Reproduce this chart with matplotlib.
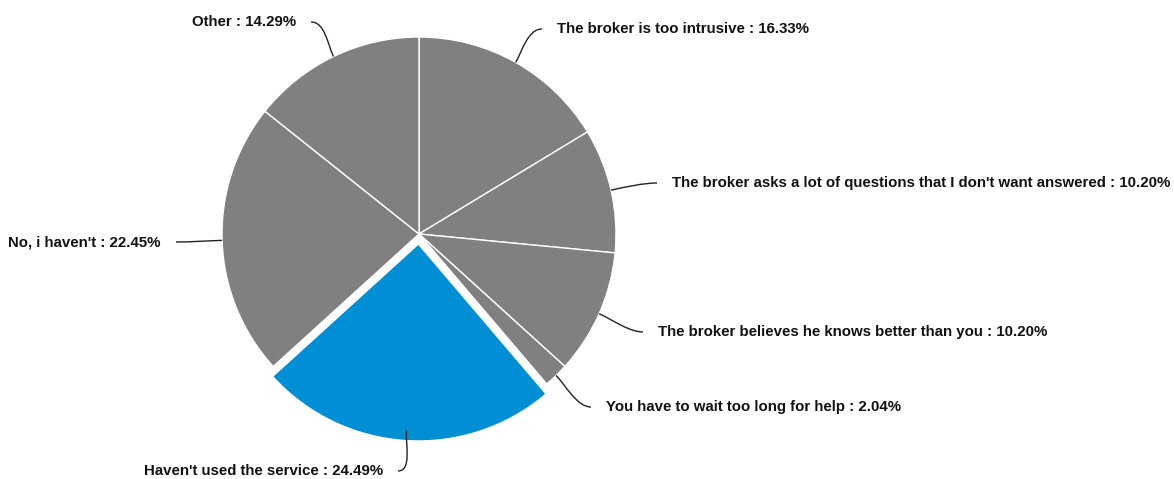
import numpy as np
import matplotlib
matplotlib.use("Agg")
import matplotlib.pyplot as plt
from matplotlib.path import Path
from matplotlib.patches import PathPatch

# Survey answers, clockwise from 12 o'clock
labels = [
    "The broker is too intrusive",
    "The broker asks a lot of questions that I don't want answered",
    "The broker believes he knows better than you",
    "You have to wait too long for help",
    "Haven't used the service",
    "No, i haven't",
    "Other",
]
shares = [16.33, 10.20, 10.20, 2.04, 24.49, 22.45, 14.29]
highlighted = "Haven't used the service"

W, H = 1174, 479
fig = plt.figure(figsize=(W / 100, H / 100), dpi=100)
ax = fig.add_axes([0, 0, 1, 1])

# pie geometry in pixel units (y measured from the top)
cx, cy, R = 419.0, 234.0, 197.0
slice_offset = 10.0

gray, blue = "#808080", "#008fd5"
colors = [blue if l == highlighted else gray for l in labels]
# matplotlib's explode is an absolute offset in data units
explode = [slice_offset if l == highlighted else 0 for l in labels]

ax.pie(shares, colors=colors, explode=explode, radius=R, center=(cx, H - cy),
       startangle=90, counterclock=False,
       wedgeprops=dict(edgecolor="white", linewidth=1.0))
ax.set_xlim(0, W)
ax.set_ylim(0, H)
ax.set_aspect("equal")
ax.axis("off")

# label placement: (x, y from top, horizontal alignment)
label_pos = [
    (557, 29, "left"),
    (672, 183, "left"),
    (658, 332, "left"),
    (606, 407, "left"),
    (383, 471, "right"),
    (161, 242, "right"),
    (296, 22, "right"),
]

total = sum(shares)
cum = 0.0
for lab, val, (tx, ty, ha) in zip(labels, shares, label_pos):
    mid = np.deg2rad((cum + val / 2) / total * 360.0)
    cum += val
    ux, uy = np.sin(mid), -np.cos(mid)
    ex, ey = cx + R * ux, cy + R * uy
    side = 1 if ha == "left" else -1
    axp = tx - side * 15
    ayp = ty
    pts = [(ex, ey), (ex + ux * 14, ey + uy * 14),
           (axp - side * 14, ayp), (axp, ayp)]
    verts = [(x, H - y) for x, y in pts]
    path = Path(verts, [Path.MOVETO, Path.CURVE4, Path.CURVE4, Path.CURVE4])
    ax.add_patch(PathPatch(path, facecolor="none", edgecolor="#222222",
                           linewidth=1.0))
    ax.text(tx, H - ty, f"{lab} : {val:.2f}%", ha=ha, va="center",
            fontsize=10.8, fontweight="bold", family="Liberation Sans",
            color="#111111")

fig.savefig("out.png", dpi=100)
